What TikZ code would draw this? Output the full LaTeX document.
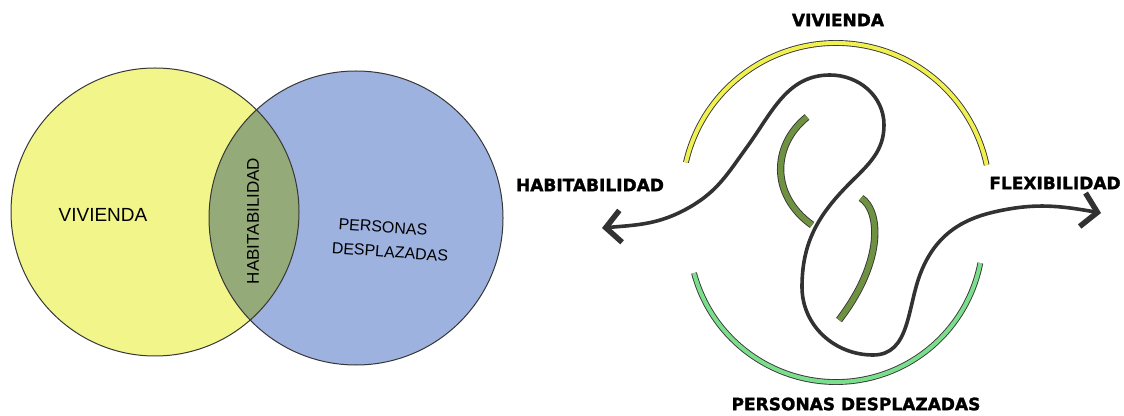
\documentclass[tikz,border=0pt]{standalone}
\usepackage{fontspec}
\setmainfont{DejaVu Sans}
\newfontfamily\handfont{Liberation Sans}
\newfontfamily\heavyfont[FakeBold=1.6]{DejaVu Sans Bold}
\usetikzlibrary{arrows.meta}
\definecolor{venyellow}{RGB}{242,246,138}
\definecolor{venblue}{RGB}{158,178,224}
\definecolor{vengreen}{RGB}{148,170,120}
\definecolor{ringout}{RGB}{55,55,55}
\definecolor{bandyellow}{RGB}{240,240,80}
\definecolor{bandgreen}{RGB}{122,222,140}
\definecolor{olivegreen}{RGB}{110,145,66}
\definecolor{curvegray}{RGB}{50,50,50}
\begin{document}
\begin{tikzpicture}[x=1pt,y=1pt,
  venncirc/.style={draw=ringout, line width=1pt},
  handlabel/.style={font=\handfont\fontsize{16}{16}\selectfont, inner sep=0pt},
  bighand/.style={font=\handfont\fontsize{19}{19}\selectfont, inner sep=0pt},
  midhand/.style={font=\handfont\fontsize{17}{17}\selectfont, inner sep=0pt},
  boldlabel/.style={font=\heavyfont\fontsize{17}{17}\selectfont, inner sep=0pt},
  band/.style={draw=ringout, line width=0.9pt, double=#1, double distance=4pt},
  oliveband/.style={draw=ringout, line width=0.9pt, double=olivegreen, double distance=5.5pt},
  flow/.style={draw=curvegray, line width=3.6pt,
    {Straight Barb[length=15pt,width=32pt,line width=5.5pt]}-{Straight Barb[length=15pt,width=34pt,line width=5.5pt]}}
]
\useasboundingbox (0,0) rectangle (1124,415);

% ---------- Venn diagram ----------
\fill[venyellow] (155,203) circle (144);
\fill[venblue] (356,197) circle (147);
\begin{scope}
  \clip (155,203) circle (144);
  \fill[vengreen] (356,197) circle (147);
\end{scope}
\draw[venncirc] (155,203) circle (144);
\draw[venncirc] (356,197) circle (147);

\node[bighand] (vviv) at (103,200) {VIVIENDA};
\node[midhand, rotate=90] (vhab) at (253,194) {HABITABILIDAD};
\node[handlabel, rotate=-4] (vper) at (383,188) {PERSONAS};
\node[handlabel, rotate=-4] (vdes) at (390,163) {DESPLAZADAS};

% ---------- Right diagram ----------
\draw[band=bandyellow] (836,218) ++(167:154) arc[start angle=167, end angle=12, radius=154];
\draw[band=bandgreen] (836,180) ++(195:147) arc[start angle=195, end angle=349, radius=147];

\draw[oliveband] (807,298) .. controls (772,270) and (770,220) .. (812,190);
\draw[oliveband] (861,217) .. controls (880,205) and (885,155) .. (839,95);

\coordinate (hl) at (602,187);
\coordinate (fr) at (1101,202);
\draw[flow] (hl) to[out=5,in=210] (690,208) to[out=30,in=234] (747,268)
  to[out=54,in=180] (830,340) to[out=0,in=90] (884,290)
  to[out=270,in=45] (850,232) to[out=225,in=90] (802,128)
  to[out=270,in=180] (873,60) to[out=0,in=248] (921,143)
  to[out=68,in=193] (994,203) to[out=13,in=170] (fr);

\node[boldlabel] (tviv) at (838,395) {VIVIENDA};
\node[boldlabel] (thab) at (590,230) {HABITABILIDAD};
\node[boldlabel] (tflex) at (1055,232) {FLEXIBILIDAD};
\node[boldlabel] (tpers) at (856,11) {PERSONAS DESPLAZADAS};
\end{tikzpicture}
\end{document}
